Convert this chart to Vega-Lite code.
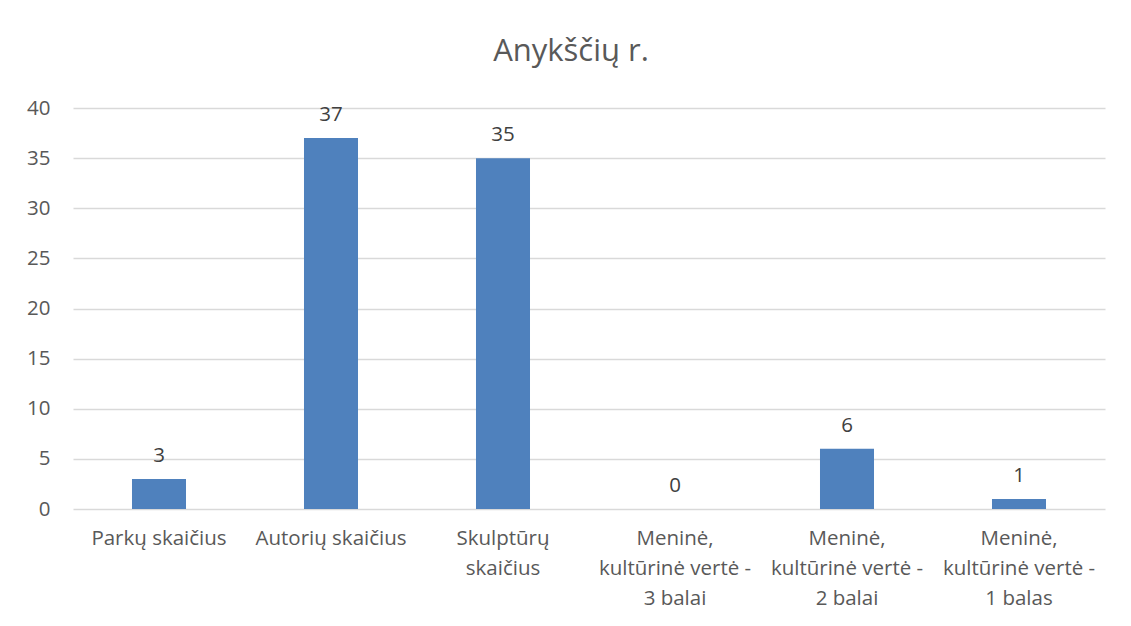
{
  "$schema": "https://vega.github.io/schema/vega-lite/v6.json",
  "width": 1032,
  "height": 401,
  "autosize": "none",
  "padding": {"left": 73, "top": 108, "right": 26, "bottom": 117},
  "background": "white",
  "config": {"view": {"stroke": null}, "font": "Open Sans"},
  "title": {"text": "Anykščių r.", "fontSize": 31, "fontWeight": "normal", "color": "#595959", "offset": 30, "dx": -18},
  "data": {
    "values": [
      {"kategorija": "Parkų skaičius", "reiksme": 3},
      {"kategorija": "Autorių skaičius", "reiksme": 37},
      {"kategorija": "Skulptūrų skaičius", "reiksme": 35},
      {"kategorija": "Meninė, kultūrinė vertė - 3 balai", "reiksme": 0},
      {"kategorija": "Meninė, kultūrinė vertė - 2 balai", "reiksme": 6},
      {"kategorija": "Meninė, kultūrinė vertė - 1 balas", "reiksme": 1}
    ]
  },
  "encoding": {
    "x": {
      "field": "kategorija",
      "type": "nominal",
      "sort": null,
      "scale": {"paddingInner": 0.686, "paddingOuter": 0.343},
      "axis": {
        "title": null,
        "labelAngle": 0,
        "domain": false,
        "ticks": false,
        "labelPadding": 19,
        "labelFontSize": 20.5,
        "labelColor": "#595959",
        "labelLineHeight": 30,
        "labelLimit": 300,
        "labelExpr": "split(replace(replace(replace(datum.label, 'Skulptūrų ', 'Skulptūrų|'), ', ', ',|'), 'vertė - ', 'vertė -|'), '|')"
      }
    },
    "y": {
      "field": "reiksme",
      "type": "quantitative",
      "scale": {"domain": [0, 40]},
      "axis": {
        "title": null,
        "values": [0, 5, 10, 15, 20, 25, 30, 35, 40],
        "domain": false,
        "ticks": false,
        "labelPadding": 23,
        "labelFontSize": 20.5,
        "labelColor": "#595959",
        "gridColor": "#d9d9d9",
        "gridWidth": 1.3
      }
    }
  },
  "layer": [
    {"mark": {"type": "bar", "color": "#4f81bd"}},
    {
      "mark": {"type": "text", "dy": -13, "baseline": "bottom", "fontSize": 20.5, "color": "#404040"},
      "encoding": {"text": {"field": "reiksme", "type": "quantitative"}}
    }
  ]
}
